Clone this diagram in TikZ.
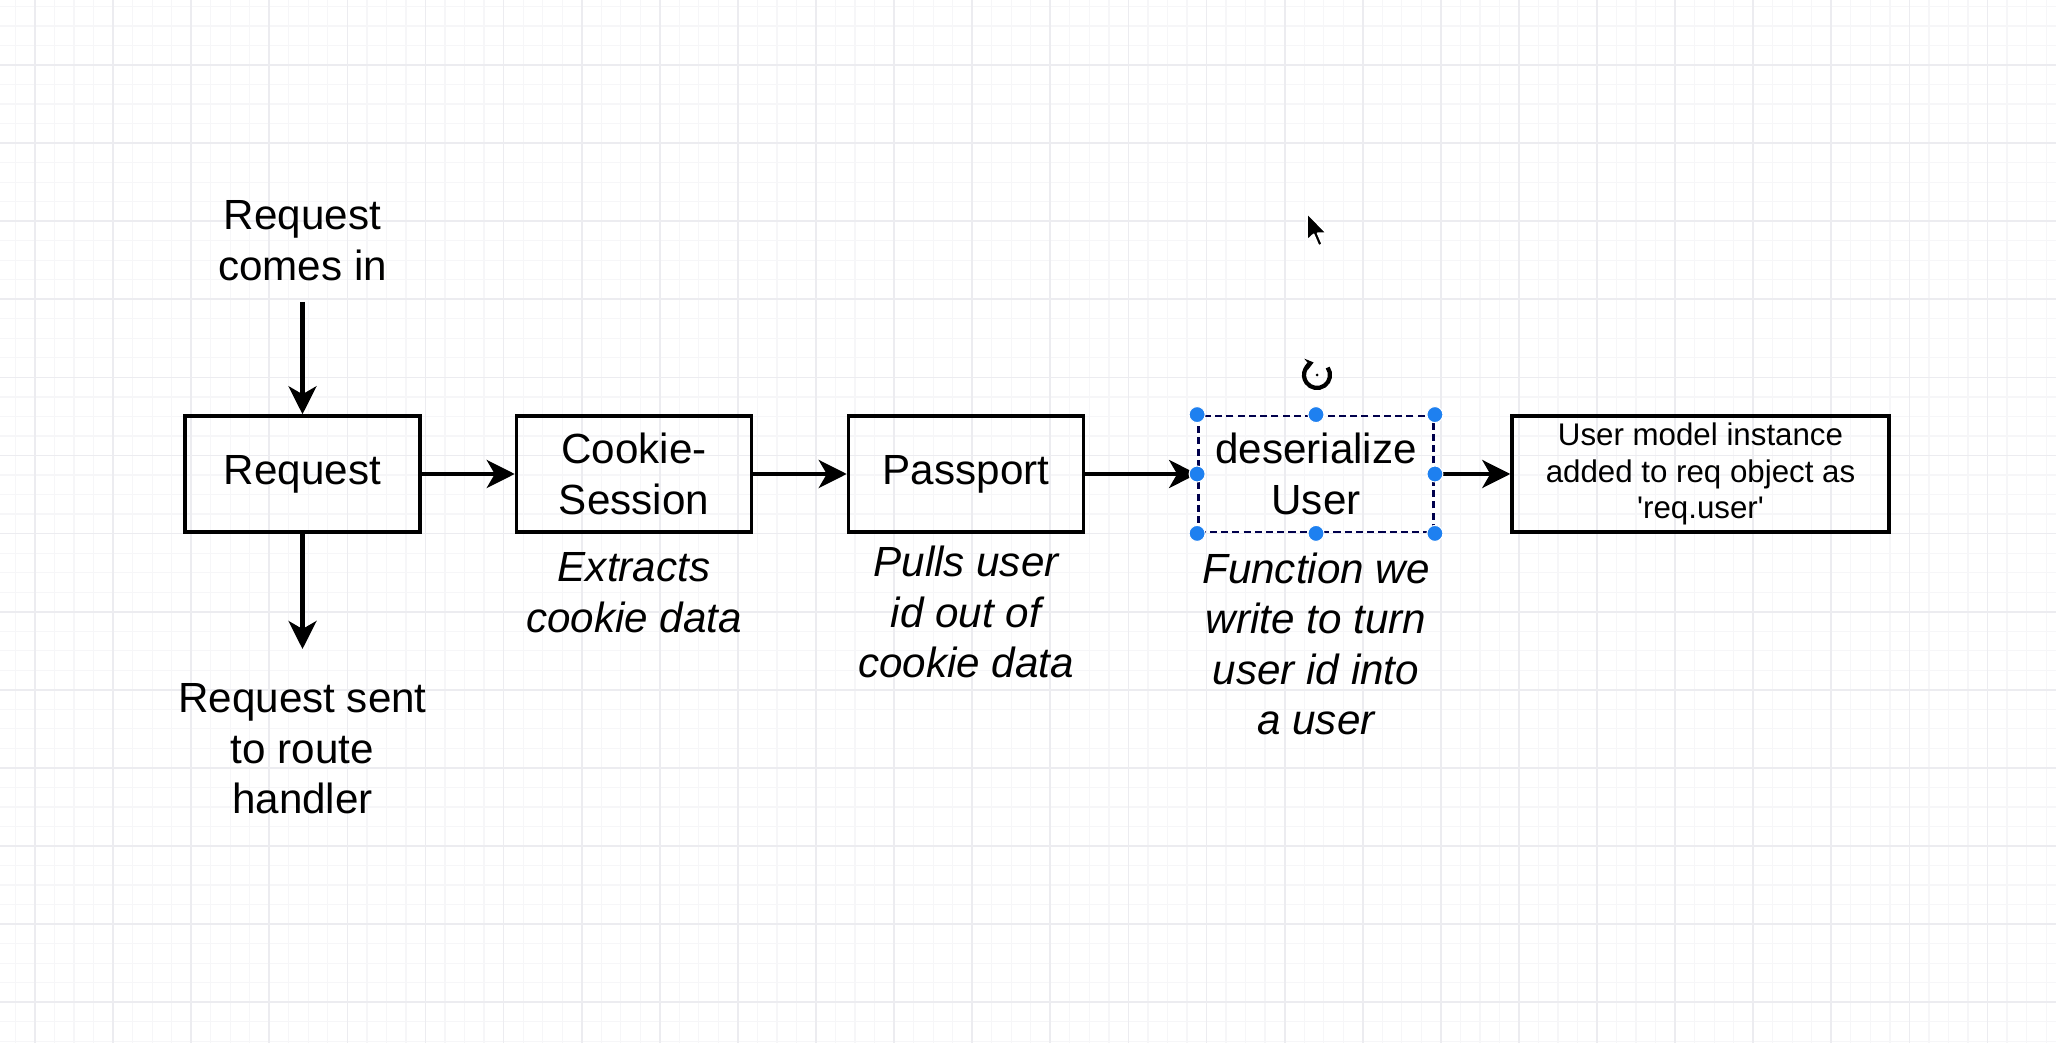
\documentclass[tikz,border=0pt]{standalone}
\usepackage{fontspec}
\setmainfont{Liberation Sans}
\usetikzlibrary{arrows.meta}
\definecolor{selblue}{RGB}{30,128,240}
\definecolor{gridmajor}{RGB}{236,236,240}
\definecolor{gridminor}{RGB}{246,246,248}
\tikzset{
	box/.style={draw, line width=1pt, minimum width=2.35cm, minimum height=1.16cm, inner sep=0pt, align=center, font=\fontsize{12}{14.4}\selectfont},
	selected/.style={draw=black!70!blue, line width=0.8pt, dash pattern=on 2pt off 1.2pt},
	plaintext/.style={align=center, inner sep=0pt, font=\fontsize{12}{14.4}\selectfont},
	notetext/.style={align=center, inner sep=0pt, font=\fontsize{12}{14.4}\selectfont\itshape},
	flow/.style={line width=1.15pt, -{Stealth[length=0.28cm, width=0.28cm, inset=0.08cm]}},
	handle/.style={circle, fill=selblue, draw=white, line width=0.3pt, inner sep=0pt, minimum size=0.16cm}
}

\begin{document}
\begin{tikzpicture}
	%%%%% START %%%%%
	
	\fill[white] (0,0) rectangle (20.56,10.42);
	\useasboundingbox (0,0) rectangle (20.56,10.42);
	\begin{scope}
		\clip (0,0) rectangle (20.56,10.42);
		\draw[gridminor, line width=0.35pt, shift={(0.35,0.398)}, step=0.19525] (-0.8,-0.8) grid (20.4,10.2);
		\draw[gridmajor, line width=0.5pt, shift={(0.35,0.398)}, step=0.781] (-0.8,-0.8) grid (20.4,10.2);
	\end{scope}
	
	\node[box] (req) at (3.025,5.68) {Request};
	\node[box] (cookie) at (6.34,5.68) {Cookie-\\Session};
	\node[box] (passport) at (9.66,5.68) {Passport};
	\node[box, selected] (deser) at (13.16,5.68) {deserialize\\User};
	\node[box, minimum width=3.77cm, font=\fontsize{8.9}{10.4}\selectfont] (reqUser) at (17.005,5.68) {User model instance\\added to req object as\\\textquotesingle req.user\textquotesingle};
	
	\node[plaintext] (reqIn) at (3.025,8.01) {Request\\comes in};
	\node[plaintext] (reqOut) at (3.025,2.93) {Request sent\\to route\\handler};
	
	\node[notetext] (cookieNote) at (6.34,4.49) {Extracts\\cookie data};
	\node[notetext] (passportNote) at (9.66,4.30) {Pulls user\\id out of\\cookie data};
	\node[notetext] (deserNote) at (13.16,3.98) {Function we\\write to turn\\user id into\\a user};
	
	\coordinate (inStart) at (3.025,7.40);
	\coordinate (outEnd) at (3.025,3.93);
	\draw[flow] (inStart) -- (req);
	\draw[flow] (req) -- (outEnd);
	\draw[flow] (req) -- (cookie);
	\draw[flow] (cookie) -- (passport);
	\draw[flow] (passport) -- (deser);
	\draw[flow] (deser) -- (reqUser);
	
	% selection handles
	\foreach \a [count=\i] in {north west,north,north east,east,south east,south,south west,west}
		\node[handle] (handle\i) at (deser.\a) {};
	
	% rotate icon
	\coordinate (rotIcon) at (13.17,6.67);
	\draw[line width=1.2pt, -{Stealth[length=0.08cm, width=0.12cm]}] ([shift={(35:0.13)}]rotIcon) arc (35:-255:0.13);
	\fill (rotIcon) circle (0.015);
	
	% mouse pointer
	\coordinate (cursorTip) at (13.07,8.29);
	\begin{scope}[shift={(cursorTip)}, scale=1.1]
		\filldraw[fill=black, draw=white, line width=0.5pt, line join=round] (0,0) -- (0,-0.25) -- (0.06,-0.195) -- (0.105,-0.30) -- (0.14,-0.285) -- (0.097,-0.185) -- (0.18,-0.185) -- cycle;
	\end{scope}
	
	%%%%% END %%%%%
\end{tikzpicture}
\end{document}
